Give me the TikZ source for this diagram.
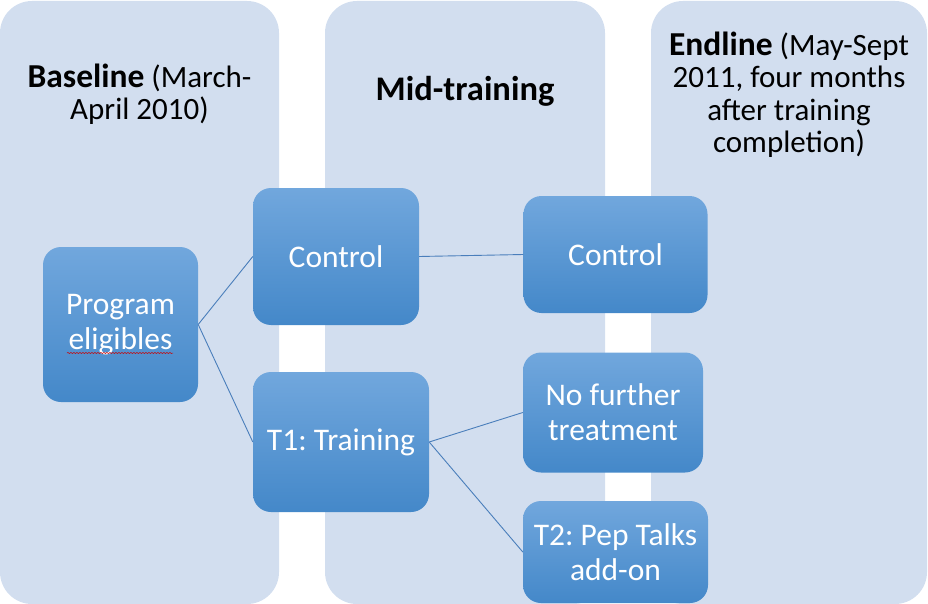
\documentclass[tikz,border=0pt]{standalone}
\usepackage{fontspec}
\setmainfont{Carlito}
\usetikzlibrary{decorations.pathmorphing}
\definecolor{panelc}{HTML}{D2DEEF}
\definecolor{topc}{HTML}{71A7DD}
\definecolor{botc}{HTML}{4488C9}
\definecolor{linec}{HTML}{4A7EBB}
\newcommand{\hbold}[1]{{\fontsize{33.5}{33}\selectfont\bfseries #1}}
\tikzset{
  panel/.style={fill=panelc, rounded corners=32pt},
  box/.style={rounded corners=18pt, top color=topc, bottom color=botc, text=white,
    align=center, inner sep=0pt, font=\fontsize{31.5}{35}\selectfont\frenchspacing},
  head/.style={align=center, inner sep=0pt, font=\fontsize{31}{32.5}\selectfont},
  conn/.style={draw=linec, line width=0.9pt}
}
\begin{document}
\begin{tikzpicture}[x=1pt,y=-1pt]
\useasboundingbox (0,0) rectangle (928,604);
\fill[panel] (0,1) rectangle (279,604);
\fill[panel] (325,1) rectangle (605,604);
\fill[panel] (651,1) rectangle (927,604);

\node[head, anchor=base] (hb) at (139.5,120) {\hbold{Baseline} (March-\\April 2010)};
\node[head, anchor=base] (hm) at (465,101) {{\fontsize{34.5}{33}\selectfont\bfseries Mid-training}};
\node[head, anchor=base] (he) at (789,153) {\hbold{Endline} (May-Sept\\2011, four months\\after training\\completion)};

\node[box, minimum width=155pt, minimum height=155pt] (pe) at (120.5,324.5) {Program\\eligibles};
\node[box, minimum width=166pt, minimum height=137pt] (c1) at (336,256.5) {Control};
\node[box, minimum width=176pt, minimum height=140pt] (t1) at (341,442) {T1: Training};
\node[box, minimum width=184pt, minimum height=117pt] (c2) at (615.5,254.5) {Control};
\node[box, minimum width=180pt, minimum height=120pt] (nf) at (613,412.5) {No further\\treatment};
\node[box, minimum width=185pt, minimum height=102pt] (t2) at (615.5,552) {T2: Pep Talks\\add-on};

\draw[conn] (pe.east) -- (c1.west);
\draw[conn] (pe.east) -- (t1.west);
\draw[conn] (c1.east) -- (c2.west);
\draw[conn] (t1.east) -- (nf.west);
\draw[conn] (t1.east) -- (t2.west);

\coordinate (sqa) at (67,353);
\coordinate (sqb) at (173,353);
\draw[red!80!black, line width=0.5pt, decorate, decoration={snake, amplitude=0.5pt, segment length=3pt}] (sqa) -- (sqb);
\end{tikzpicture}
\end{document}
